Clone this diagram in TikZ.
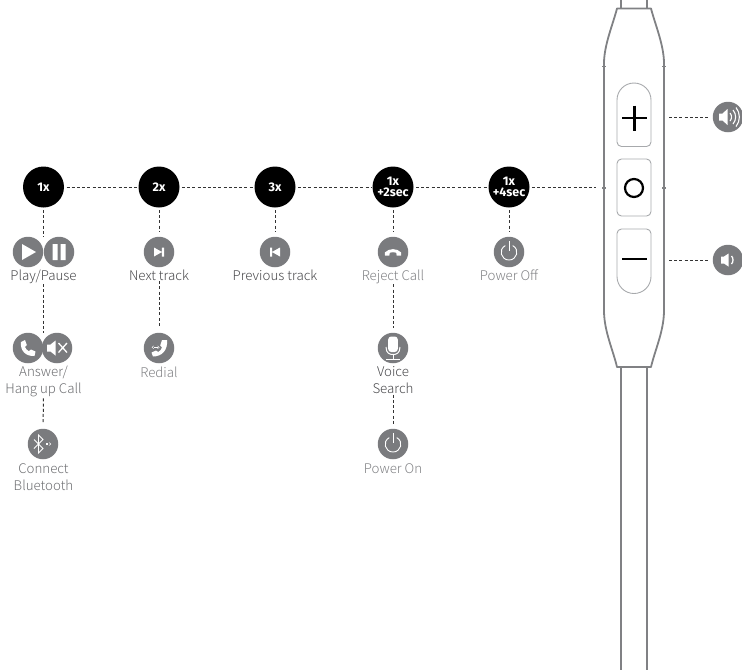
\documentclass[tikz,border=0pt]{standalone}
\usepackage{fontspec}
\setmainfont{Noto Sans CJK SC Light}
\newfontfamily\boldf{Fira Sans}
\tikzset{
  base/.style={inner sep=0pt,outer sep=0pt},
  press/.style={base,circle,fill=black,minimum size=41pt,text=white,font=\boldf\bfseries\fontsize{12.5}{11.5}\selectfont,align=center},
  ico/.style={base,circle,fill=icogray,minimum size=30.5pt},
  lab/.style={base,anchor=north,align=center,font=\fontsize{13.3}{17}\selectfont},
  conn/.style={line width=1pt,black!80,dash pattern=on 3pt off 2.2pt},
  rail/.style={draw=devgray,line width=1.8pt,line join=round},
  btn/.style={draw=btngray,line width=0.9pt},
}
\definecolor{icogray}{HTML}{7A7B7E}
\definecolor{devgray}{HTML}{808184}
\definecolor{btngray}{HTML}{A7A9AC}
\definecolor{darkt}{HTML}{48484B}
\definecolor{midt}{HTML}{6D6E71}
\definecolor{lightt}{HTML}{808184}
\begin{document}
\begin{tikzpicture}[x=1pt,y=-1pt]
\useasboundingbox (0,0) rectangle (742,670);
% device
\draw[rail] (621,0) -- (621,8.5);
\draw[rail] (647,0) -- (647,8.5);
\draw[rail] (617,8.5) -- (651,8.5)
  .. controls (655,24) and (663.5,44) .. (664,62) -- (664,312)
  .. controls (663.5,332) and (655,350) .. (651,367) -- (617,367)
  .. controls (613,350) and (604.5,332) .. (604,312) -- (604,62)
  .. controls (604.5,44) and (613,24) .. (617,8.5) -- cycle;
\draw[rail] (621,367) -- (621,670);
\draw[rail] (647,367) -- (647,670);
\draw[devgray,line width=1.2pt] (602,66.5) -- (606,66.5) (662,66.5) -- (666,66.5)
  (602,188) -- (606,188) (662,188) -- (666,188);
% buttons
\draw[btn] (617,100) arc[start angle=180,end angle=360,radius=17] -- (651,142)
  arc[start angle=0,end angle=90,radius=4.5] -- (621.5,146.5)
  arc[start angle=90,end angle=180,radius=4.5] -- cycle;
\draw[btn,rounded corners=4.5pt] (617,159) rectangle (651,216);
\draw[btn] (617,276.5) arc[start angle=180,end angle=0,radius=17] -- (651,233.5)
  arc[start angle=0,end angle=-90,radius=4.5] -- (621.5,229)
  arc[start angle=-90,end angle=-180,radius=4.5] -- cycle;
\draw[black,line width=2.2pt] (622,118) -- (647,118) (634.5,105.5) -- (634.5,130.5);
\draw[black,line width=2.2pt] (634,188) circle[radius=9];
\draw[black,line width=2.2pt] (622,259) -- (647,259);
% presses
\node[press] (p1) at (43.5,187) {1x};
\node[press] (p2) at (159,187) {2x};
\node[press] (p3) at (275,187) {3x};
\node[press] (p4) at (393,187) {1x\\+2sec};
\node[press] (p5) at (509,187) {1x\\+4sec};
\coordinate (bodyL) at (596,187);
% icons
\node[ico] (play) at (28,252) {};
\node[ico] (pause) at (59,252) {};
\node[ico] (answer) at (28,348) {};
\node[ico] (mute) at (57,348) {};
\node[ico] (bt) at (43,444) {};
\node[ico] (next) at (159,252) {};
\node[ico] (redial) at (159,348) {};
\node[ico] (prev) at (275,252) {};
\node[ico] (reject) at (393,252) {};
\node[ico] (mic) at (393,348) {};
\node[ico] (pon) at (393,444) {};
\node[ico] (poff) at (509,252) {};
\node[ico] (volup) at (728,117) {};
\node[ico] (voldn) at (728,260) {};
\coordinate (top1) at (43.5,237);
\coordinate (top1b) at (43.5,333);
% labels
\node[lab,text=darkt] (lplay) at (43.5,269.5) {Play/Pause};
\node[lab,text=midt] (lans) at (43.5,366.5) {Answer/\\Hang up Call};
\node[lab,text=midt] (lbt) at (43.5,463.5) {Connect\\Bluetooth};
\node[lab,text=darkt] (lnext) at (159,269.5) {Next track};
\node[lab,text=lightt] (lred) at (159,366.5) {Redial};
\node[lab,text=darkt] (lprev) at (275,269.5) {Previous track};
\node[lab,text=lightt] (lrej) at (393,269.5) {Reject Call};
\node[lab,text=darkt] (lvoice) at (393,366.5) {Voice\\Search};
\node[lab,text=lightt] (lpon) at (393,463.5) {Power On};
\node[lab,text=lightt] (lpoff) at (509,269.5) {Power Off};
% connectors
\foreach \a/\b in {p1/p2,p2/p3,p3/p4,p4/p5}
  \draw[conn,shorten <=2.5pt,shorten >=1pt] (\a) -- (\b);
\draw[conn,shorten <=2.5pt] (p5) -- (bodyL);
\draw[conn,shorten <=2.5pt] (p1) -- (top1);
\foreach \a/\b in {p2/next,p3/prev,p4/reject,p5/poff}
  \draw[conn,shorten <=2.5pt,shorten >=5pt] (\a) -- (\b);
\draw[conn,shorten <=1pt] (lplay.south -| top1) -- (top1b);
\draw[conn,shorten <=1pt,shorten >=5pt] (lnext) -- (redial);
\draw[conn,shorten <=1pt,shorten >=5pt] (lans) -- (bt);
\draw[conn,shorten <=1pt,shorten >=5pt] (lrej) -- (mic);
\draw[conn,shorten <=1pt,shorten >=5pt] (lvoice) -- (pon);
\draw[conn,shorten >=3pt] (669,117) -- (volup);
\draw[conn,shorten >=3pt] (669,260) -- (voldn);
% glyphs
\begin{scope}[shift={(play.center)}]
 \fill[white] (-6,-8) -- (8,0) -- (-6,8) -- cycle;
\end{scope}
\begin{scope}[shift={(pause.center)}]
 \fill[white] (-6.5,-8) rectangle (-1.5,8) (1.5,-8) rectangle (6.5,8);
\end{scope}
\begin{scope}[shift={(next.center)}]
 \fill[white] (-5,-4.5) -- (3,0) -- (-5,4.5) -- cycle (2.8,-4.5) rectangle (5,4.5);
\end{scope}
\begin{scope}[shift={(prev.center)}]
 \fill[white] (5,-4.5) -- (-3,0) -- (5,4.5) -- cycle (-2.8,-4.5) rectangle (-5,4.5);
\end{scope}
\begin{scope}[shift={(answer.center)}]
 \fill[white] (-7,-6) .. controls (-8,3) and (-2,8.5) .. (6.5,8)
   -- (7.5,3.5) -- (3,1.5) -- (0.8,3.2) .. controls (-1,2.2) and (-2.3,0.8) .. (-3,-1)
   -- (-1.2,-3) -- (-3,-8) -- cycle;
\end{scope}
\begin{scope}[shift={(mute.center)}]
 \fill[white] (-10,-3.5) -- (-6.5,-3.5) -- (-1.5,-7.5) -- (-1.5,7.5) -- (-6.5,3.5) -- (-10,3.5) -- cycle;
 \draw[white,line width=1.3pt] (1.5,-5) -- (10,4.5) (1.5,4.5) -- (10,-5);
\end{scope}
\begin{scope}[shift={(bt.center)}]
 \draw[white,line width=0.9pt,line join=miter] (-9,-4.5) -- (0,4.5) -- (-4.5,9) -- (-4.5,-9) -- (0,-4.5) -- (-9,4.5);
 \fill[white] (3,-0.8) rectangle (5,0.8);
 \draw[white,line width=0.5pt] (6,-1.5) -- (7.8,0) -- (6,1.5);
\end{scope}
\begin{scope}[shift={(redial.center)}]
 \fill[white] (8,-8) .. controls (9,2) and (3,8.5) .. (-6,8.5)
   -- (-7.5,4.5) -- (-3,2.5) -- (-0.8,4) .. controls (1,3) and (2.5,1.5) .. (3,-0.5)
   -- (1.2,-2.6) -- (3,-8) -- cycle;
 \fill[white] (-5,-1.2) rectangle (-1.5,-0.2);
 \draw[white,line width=0.4pt] (-5.2,-2.2) -- (-7,-0.7) -- (-5.2,0.8) (-1.5,-2.2) -- (0.3,-0.7) -- (-1.5,0.8);
\end{scope}
\begin{scope}[shift={(reject.center)}]
 \fill[white] (-8,3.5) -- (-8.2,0.5) .. controls (-4,-4) and (4,-4) .. (8.2,0.5)
   -- (8,3.5) -- (3.7,3.5) -- (3.2,0.7) .. controls (1,0) and (-1,0) .. (-3.2,0.7)
   -- (-3.7,3.5) -- cycle;
\end{scope}
\begin{scope}[shift={(mic.center)}]
 \fill[white,rounded corners=3pt] (-4.8,-11.5) rectangle (4.8,4);
 \draw[white,line width=1pt] (-7,-1) .. controls (-7,5.5) and (-3,6.5) .. (0,6.5)
   .. controls (3,6.5) and (7,5.5) .. (7,-1);
 \draw[white,line width=1pt] (0,6.5) -- (0,10.5) (-7,11) -- (7,11);
\end{scope}
\foreach \n in {pon,poff}{
\begin{scope}[shift={(\n.center)}]
 \draw[white,line width=0.9pt] (-3.7,-6.4) .. controls (-11,-2.5) and (-8,8) .. (0,8)
   .. controls (8,8) and (11,-2.5) .. (3.7,-6.4);
 \draw[white,line width=0.9pt] (0,-11) -- (0,-1);
\end{scope}}
\begin{scope}[shift={(volup.center)}]
 \fill[white] (-9,-3.5) -- (-5.5,-3.5) -- (-0.5,-8) -- (-0.5,8) -- (-5.5,3.5) -- (-9,3.5) -- cycle;
 \draw[white,line width=1.1pt] (2,-4) .. controls (4,-2) and (4,2) .. (2,4);
 \draw[white,line width=1.1pt] (5,-7) .. controls (8.5,-3) and (8.5,3) .. (5,7);
 \draw[white,line width=1.1pt] (8,-9.5) .. controls (12.5,-4) and (12.5,4) .. (8,9.5);
\end{scope}
\begin{scope}[shift={(voldn.center)}]
 \fill[white] (-7,-3.5) -- (-4,-3.5) -- (0.5,-6.5) -- (0.5,6.5) -- (-4,3.5) -- (-7,3.5) -- cycle;
 \draw[white,line width=1.3pt] (3.5,-4) .. controls (5.5,-2) and (5.5,2) .. (3.5,4);
\end{scope}
\end{tikzpicture}
\end{document}
